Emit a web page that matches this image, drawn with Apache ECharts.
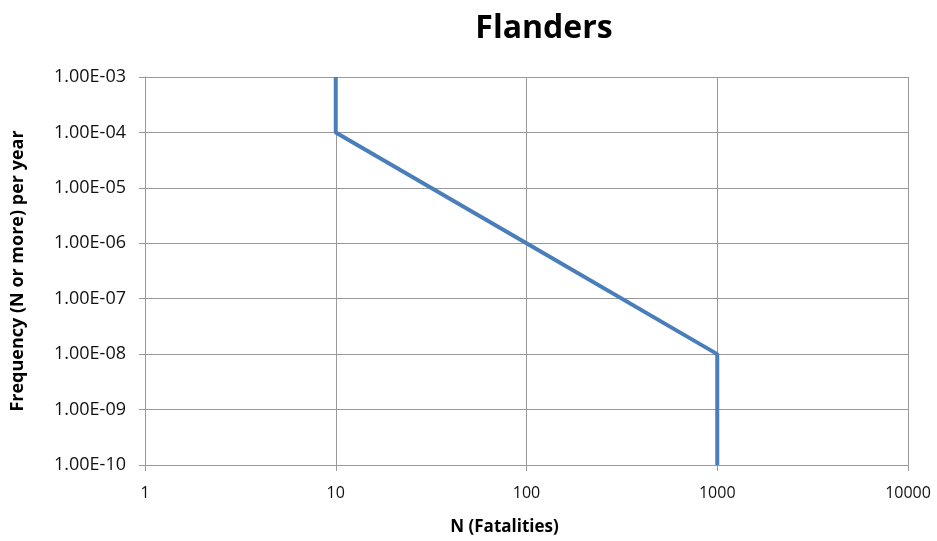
<!DOCTYPE html>
<html style="height: 100%">
<head>
    <meta charset="utf-8">
    <title>Flanders</title>
</head>
<body style="height: 100%; margin: 0; background: #fff">
    <div id="container" style="width: 937px; height: 541px"></div>
    <script type="text/javascript" src="https://cdn.jsdelivr.net/npm/echarts@6/dist/echarts.min.js"></script>
    <script type="text/javascript">
        // FN curve points: fatalities N vs frequency per year
        var fatalities = [10, 10, 100, 1000, 1000];
        var frequency = [1e-3, 1e-4, 1e-6, 1e-8, 1e-10];

        var data = [];
        for (var i = 0; i < fatalities.length; i++) {
            data.push([fatalities[i], frequency[i]]);
        }

        var font = 'Open Sans';

        function sci(v) {
            var s = Number(v).toExponential(2).toUpperCase();
            // pad exponent to two digits like Excel: 1.00E-03
            return s.replace(/E([+-])(\d)$/, 'E$10$2');
        }

        var myChart = echarts.init(document.getElementById('container'));
        var option = {
            animation: false,
            title: {
                text: 'Flanders',
                left: 539,
                textAlign: 'center',
                top: 8,
                textStyle: {
                    fontFamily: font,
                    fontSize: 32,
                    fontWeight: 'bold',
                    color: '#000'
                }
            },
            grid: {
                left: 145,
                right: 29,
                top: 77,
                bottom: 74
            },
            xAxis: {
                type: 'log',
                logBase: 10,
                min: 1,
                max: 10000,
                interval: 1,
                name: 'N (Fatalities)',
                nameLocation: 'middle',
                nameGap: 54,
                nameTextStyle: {
                    fontFamily: font,
                    fontSize: 17,
                    fontWeight: 'bold',
                    color: '#000',
                    padding: [0, 44, 0, 0]
                },
                axisLine: { lineStyle: { color: '#999', width: 1 } },
                axisTick: { show: true, length: 6, lineStyle: { color: '#999' } },
                axisLabel: {
                    fontFamily: font,
                    fontSize: 16,
                    color: '#111',
                    margin: 20,
                    formatter: function (v) { return String(Math.round(v)); }
                },
                splitLine: { show: true, lineStyle: { color: '#999', width: 1 } },
                minorTick: { show: false },
                minorSplitLine: { show: false }
            },
            yAxis: {
                type: 'log',
                logBase: 10,
                min: 1e-10,
                max: 1e-3,
                interval: 1,
                name: 'Frequency (N or more) per year',
                nameLocation: 'middle',
                nameGap: 118,
                nameTextStyle: {
                    fontFamily: font,
                    fontSize: 18,
                    fontWeight: 'bold',
                    color: '#000'
                },
                axisLine: { show: true, lineStyle: { color: '#999', width: 1 } },
                axisTick: { show: true, length: 6, lineStyle: { color: '#999' } },
                axisLabel: {
                    fontFamily: font,
                    fontSize: 18,
                    color: '#111',
                    margin: 19,
                    formatter: sci
                },
                splitLine: { show: true, lineStyle: { color: '#999', width: 1 } }
            },
            series: [{
                type: 'line',
                data: data,
                showSymbol: false,
                symbol: 'none',
                lineStyle: { color: '#4a7ebb', width: 4 },
                itemStyle: { color: '#4a7ebb' }
            }]
        };
        myChart.setOption(option, true);
    </script>
</body>
</html>
